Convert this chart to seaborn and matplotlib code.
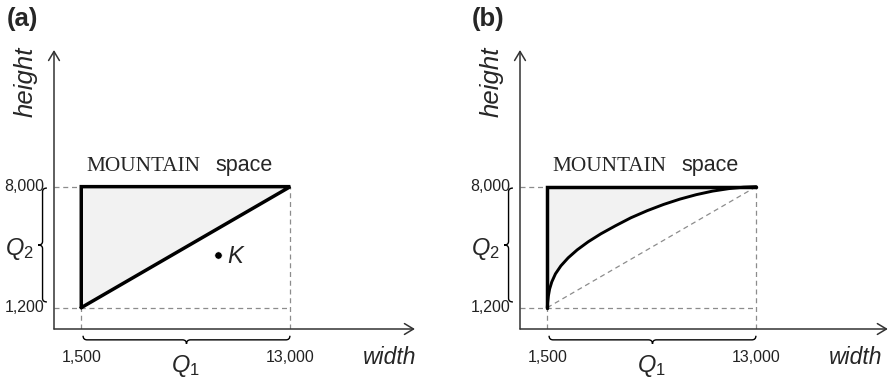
import numpy as np
import pandas as pd
import matplotlib
matplotlib.use("Agg")
import matplotlib.pyplot as plt
from matplotlib.path import Path
from matplotlib.patches import PathPatch
import seaborn as sns

# Problem bounds (width x height)
width_bounds = [1500, 13000]
height_bounds = [1200, 8000]
x_tick_labels = ["1,500", "13,000"]
y_tick_labels = ["1,200", "8,000"]
panel_labels = ["(a)", "(b)"]

# Point K in panel (a)
k_point = [9000, 4150]

# Lower boundary of the MOUNTAIN space in panel (b)
curve_x = [1500, 1520, 1560, 1630, 1750, 1950, 2250, 2650, 3150, 3750, 4450,
           5250, 6100, 7000, 7900, 8800, 9700, 10600, 11500, 12300, 13000]
curve_y = [1200, 1500, 1850, 2250, 2650, 3100, 3550, 4000, 4450, 4900, 5350,
           5800, 6250, 6650, 7000, 7300, 7550, 7750, 7890, 7970, 8000]

# data units per pixel (same scale in both panels)
SX, SY = 55.02, 56.2
FIG_W, FIG_H = 890, 379

sns.set_theme(style="white")
plt.rcParams['font.family'] = ['Liberation Sans', 'DejaVu Sans']
plt.rcParams['mathtext.fontset'] = 'custom'
plt.rcParams['mathtext.it'] = 'Liberation Sans:italic'
plt.rcParams['mathtext.rm'] = 'Liberation Sans'

AXIS_COL = '#333333'
DASH_COL = '#8c8c8c'
FILL_COL = '#f2f2f2'


def make_axes(fig, origin_px):
    ax = fig.add_axes([origin_px / FIG_W, (FIG_H - 329) / FIG_H, 372 / FIG_W, 284 / FIG_H])
    ax.set_xlim(0, 372 * SX)
    ax.set_ylim(0, 284 * SY)
    ax.axis('off')
    return ax


def draw_brace(ax, a, b, base, depth, r, vertical=False):
    """Curly brace from a to b, ends at `base`, tip at base+depth."""
    m = (a + b) / 2
    h = base + depth / 2
    t = base + depth
    pts = [(a, base), (a, h), (a + r, h), (m - r, h), (m, h), (m, t),
           (m, h), (m + r, h), (b - r, h), (b, h), (b, base)]
    codes = [Path.MOVETO, Path.CURVE3, Path.CURVE3, Path.LINETO, Path.CURVE3, Path.CURVE3,
             Path.CURVE3, Path.CURVE3, Path.LINETO, Path.CURVE3, Path.CURVE3]
    if vertical:
        pts = [(p[1], p[0]) for p in pts]
    patch = PathPatch(Path(pts, codes), fill=False, lw=1.0, color='black', clip_on=False)
    ax.add_patch(patch)


def draw_frame(ax, label, x_arrow_end):
    x0, x1 = width_bounds
    y0, y1 = height_bounds
    arrow = dict(arrowstyle='->,head_length=0.5,head_width=0.3', lw=1.1,
                 color=AXIS_COL, mutation_scale=13, shrinkA=0, shrinkB=0)
    ax.annotate('', xy=(x_arrow_end, 0), xytext=(0, 0), arrowprops=arrow, annotation_clip=False)
    ax.annotate('', xy=(0, 15680), xytext=(0, 0), arrowprops=arrow, annotation_clip=False)

    dash = dict(color=DASH_COL, lw=0.9, ls=(0, (4, 3)))
    ax.plot([0, x0], [y1, y1], **dash)
    ax.plot([0, x1], [y0, y0], **dash)
    ax.plot([x0, x0], [0, y0], **dash)
    ax.plot([x1, x1], [0, y1], **dash)

    for v, lab in zip(width_bounds, x_tick_labels):
        ax.text(v, -1600, lab, ha='center', va='center', fontsize=11.5, color='#222222')
    for v, lab in zip(height_bounds, y_tick_labels):
        ax.text(-550, v, lab, ha='right', va='center', fontsize=11.5, color='#222222')

    ax.text(18450, -1620, 'width', ha='center', va='center', fontsize=16.5, style='italic')
    ax.text(-1540, 13900, 'height', ha='center', va='center', fontsize=18.5,
            style='italic', rotation=90)
    ax.text(-1740, 17450, label, ha='center', va='center', fontsize=18.5, weight='bold')

    ax.text(1800, 8880, 'MOUNTAIN', ha='left', va='baseline', fontsize=15.3,
            family='Liberation Serif')
    ax.text(8860, 8880, 'space', ha='left', va='baseline', fontsize=15.5)

    draw_brace(ax, x0 + 100, x1 - 20, -380, -460, 220)
    draw_brace(ax, y0 + 320, y1 - 80, -390, -480, 200, vertical=True)
    ax.text((x0 + x1) / 2, -2080, r'$Q_1$', ha='center', va='center', fontsize=17)
    ax.text(-1930, (y0 + y1) / 2 - 120, r'$Q_2$', ha='center', va='center', fontsize=17)


fig = plt.figure(figsize=(FIG_W / 100, FIG_H / 100), dpi=100)

# Panel (a): triangle
ax_a = make_axes(fig, 54)
draw_frame(ax_a, panel_labels[0], 19860)
tri = pd.DataFrame({'w': [width_bounds[0], width_bounds[0], width_bounds[1], width_bounds[0]],
                    'h': [height_bounds[0], height_bounds[1], height_bounds[1], height_bounds[0]]})
ax_a.fill(tri['w'], tri['h'], color=FILL_COL, lw=0)
sns.lineplot(data=tri, x='w', y='h', sort=False, estimator=None, color='black',
             lw=2.5, ax=ax_a, solid_joinstyle='miter')
sns.scatterplot(x=[k_point[0]], y=[k_point[1]], color='black', s=28, ax=ax_a, zorder=5)
ax_a.text(k_point[0] + 520, k_point[1] - 80, 'K', ha='left', va='center', fontsize=17,
          style='italic')
ax_a.set_xlabel('')
ax_a.set_ylabel('')

# Panel (b): curved boundary
ax_b = make_axes(fig, 520)
draw_frame(ax_b, panel_labels[1], 20240)
ax_b.plot(width_bounds, height_bounds, color=DASH_COL, lw=0.9, ls=(0, (4, 3)))
shape = pd.DataFrame({'w': curve_x + [width_bounds[0], width_bounds[0]],
                      'h': curve_y + [height_bounds[1], height_bounds[0]]})
ax_b.fill(shape['w'], shape['h'], color=FILL_COL, lw=0)
sns.lineplot(x=curve_x, y=curve_y, sort=False, estimator=None, color='black',
             lw=2.1, ax=ax_b, solid_joinstyle='round')
sns.lineplot(x=[width_bounds[0], width_bounds[0], width_bounds[1]],
             y=[height_bounds[0], height_bounds[1], height_bounds[1]],
             sort=False, estimator=None, color='black', lw=2.5, ax=ax_b,
             solid_joinstyle='miter')
ax_b.set_xlabel('')
ax_b.set_ylabel('')

fig.savefig('out.png', dpi=100)
